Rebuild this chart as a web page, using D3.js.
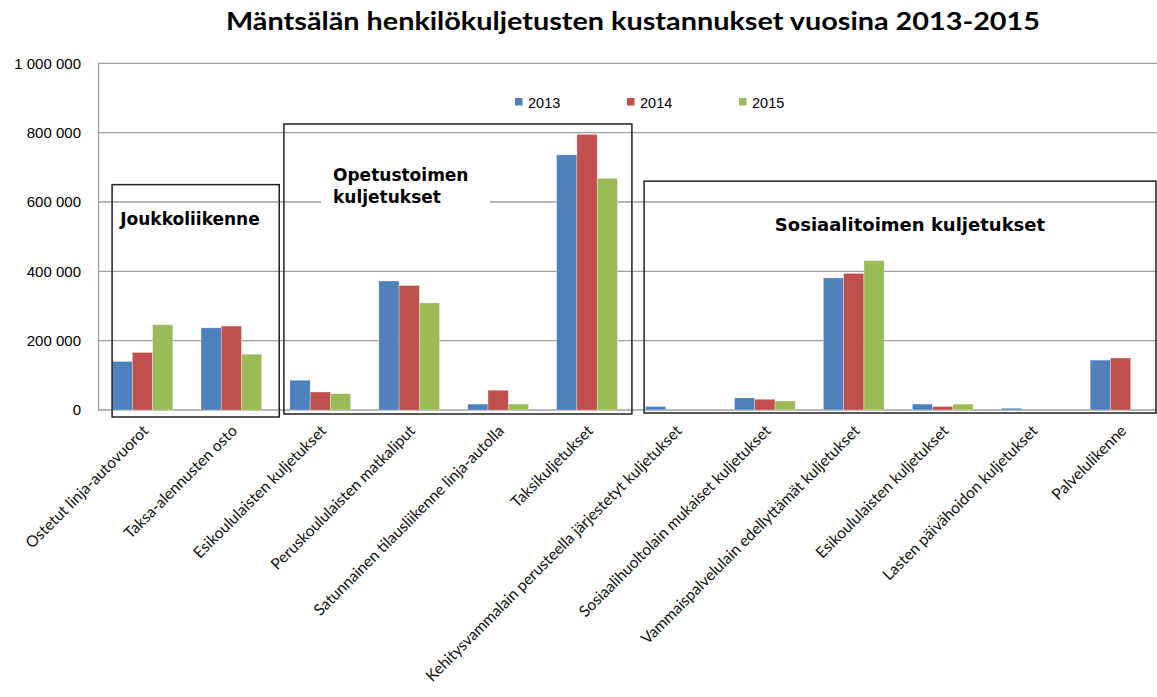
<!DOCTYPE html>
<html>
<head>
<meta charset="utf-8">
<script src="https://cdn.jsdelivr.net/npm/d3@7"></script>
<style>
  body { margin: 0; background: #fff; }
  svg { display: block; }
</style>
</head>
<body>
<svg id="chart" width="1157" height="697"></svg>
<script>
/*************************** Data ***************************/
var chartTitle = "Mäntsälän henkilökuljetusten kustannukset vuosina 2013-2015";

var categories = [
  "Ostetut linja-autovuorot",
  "Taksa-alennusten osto",
  "Esikoululaisten kuljetukset",
  "Peruskoululaisten matkaliput",
  "Satunnainen tilausliikenne linja-autolla",
  "Taksikuljetukset",
  "Kehitysvammalain perusteella järjestetyt kuljetukset",
  "Sosiaalihuoltolain mukaiset kuljetukset",
  "Vammaispalvelulain edellyttämät kuljetukset",
  "Esikoululaisten kuljetukset",
  "Lasten päivähoidon kuljetukset",
  "Palvelulikenne"
];

var years = ["2013", "2014", "2015"];
var values2013 = [140000, 237000, 86000, 372000, 17000, 736000, 10000, 35000, 381000, 17000, 5000, 144000];
var values2014 = [166000, 242000, 52000, 359000, 57000, 795000, 0, 31000, 394000, 10000, 0, 150000];
var values2015 = [246000, 161000, 47000, 309000, 17000, 668000, 0, 26000, 431000, 17000, 0, 0];

var yTicks = [0, 200000, 400000, 600000, 800000, 1000000];

// groups of categories framed with a box (first index, last index, top value, label lines)
var groupFirst = [0, 2, 6];
var groupLast  = [1, 5, 11];
var groupTop   = [650000, 825000, 660000];
var groupLabels = [["Joukkoliikenne"], ["Opetustoimen", "kuljetukset"], ["Sosiaalitoimen kuljetukset"]];

/*************************** Layout ***************************/
var colors = ["#4F81BD", "#C0504D", "#9BBB59"];
var svg = d3.select("#chart");
var plotLeft = 98, plotRight = 1165, plotTop = 63.3, plotBottom = 410;

var x0 = d3.scaleBand().domain(d3.range(categories.length)).range([plotLeft, plotRight])
            .paddingInner(0.317).paddingOuter(0.1585);
var x1 = d3.scaleBand().domain(years).range([0, x0.bandwidth()]);
var y = d3.scaleLinear().domain([0, 1000000]).range([plotBottom, plotTop]);

var series = [values2013, values2014, values2015];
var rows = categories.map(function(c, i){
    return years.map(function(yr, k){ return {cat: i, year: yr, k: k, v: series[k][i]}; });
});

// title
svg.append("text")
   .attr("x", 633).attr("y", 30)
   .attr("text-anchor", "middle")
   .attr("font-family", "Lato, 'Open Sans', sans-serif")
   .attr("font-weight", "bold")
   .attr("font-size", "25px")
   .attr("textLength", 814)
   .attr("lengthAdjust", "spacingAndGlyphs")
   .attr("fill", "#000")
   .text(chartTitle);

// gridlines
svg.append("g").selectAll("line")
   .data(yTicks.filter(function(t){ return t > 0; }))
   .enter().append("line")
   .attr("x1", plotLeft).attr("x2", plotRight)
   .attr("y1", function(d){ return y(d); }).attr("y2", function(d){ return y(d); })
   .attr("stroke", "#a0a0a0").attr("stroke-width", 1.3);

// y axis
var yAxis = d3.axisLeft(y).tickValues(yTicks).tickSize(0).tickPadding(17)
              .tickFormat(function(d){ return d3.format(",")(d).replace(/,/g, " "); });
var ya = svg.append("g").attr("transform", "translate(" + plotLeft + ",0)").call(yAxis);
ya.select(".domain").attr("stroke", "#a0a0a0").attr("stroke-width", 1.3);
ya.selectAll("text").attr("font-family", "'Liberation Sans', Arial, sans-serif")
  .attr("font-size", "15px").attr("fill", "#000");

// baseline
svg.append("line").attr("x1", plotLeft).attr("x2", plotRight)
   .attr("y1", y(0)).attr("y2", y(0))
   .attr("stroke", "#a0a0a0").attr("stroke-width", 1.5);

// bars
svg.append("g").selectAll("g")
   .data(rows).enter().append("g")
   .attr("transform", function(d, i){ return "translate(" + x0(i) + ",0)"; })
   .selectAll("rect")
   .data(function(d){ return d.filter(function(e){ return e.v > 0; }); })
   .enter().append("rect")
   .attr("x", function(d){ return x1(d.year); })
   .attr("width", x1.bandwidth())
   .attr("y", function(d){ return y(d.v); })
   .attr("height", function(d){ return y(0) - y(d.v); })
   .attr("fill", function(d){ return colors[d.k]; })
   .attr("stroke", "#ffffff").attr("stroke-opacity", 0.5).attr("stroke-width", 0.6);

// category labels
svg.append("g").selectAll("text")
   .data(categories).enter().append("text")
   .attr("transform", function(d, i){
       return "translate(" + (x0(i) + x0.bandwidth() / 2 + 3) + "," + 428 + ") rotate(-45)";
   })
   .attr("text-anchor", "end")
   .attr("dy", "0.35em")
   .attr("font-family", "Lato, 'Open Sans', sans-serif")
   .attr("font-size", "15.6px")
   .attr("fill", "#111")
   .text(function(d){ return d; });

// legend
var legend = svg.append("g").selectAll("g")
   .data(years).enter().append("g")
   .attr("transform", function(d, i){ return "translate(" + (515 + i * 112) + ",98)"; });
legend.append("rect").attr("width", 7.5).attr("height", 7.5)
      .attr("fill", function(d, i){ return colors[i]; });
legend.append("text").attr("x", 13).attr("y", 10)
      .attr("font-family", "'Liberation Sans', Arial, sans-serif")
      .attr("font-size", "14.5px").attr("fill", "#000")
      .text(function(d){ return d; });

// group boxes
var padL = [0, 6, 1.5], padR = [17.5, 14.5, 0], bottomOff = [7, 4, 3];
groupFirst.forEach(function(f, g){
    var bx0 = x0(f) - padL[g];
    var bx1 = x0(groupLast[g]) + x0.bandwidth() + padR[g];
    if (groupLast[g] === categories.length - 1) bx1 = 1156;
    var by0 = y(groupTop[g]);
    var by1 = y(0) + bottomOff[g];
    svg.append("rect")
       .attr("x", bx0).attr("y", by0)
       .attr("width", bx1 - bx0).attr("height", by1 - by0)
       .attr("fill", "none").attr("stroke", "#222").attr("stroke-width", 1.5);
});

// white background over gridline behind "Opetustoimen kuljetukset"
svg.append("rect").attr("x", 321).attr("y", 160).attr("width", 169).attr("height", 50).attr("fill", "#fff");

// group labels
var lbl = svg.append("g").attr("font-family", "'DejaVu Sans', Verdana, sans-serif")
             .attr("font-weight", "bold").attr("font-size", "17px").attr("fill", "#000");
lbl.append("text").attr("x", 190).attr("y", 225).attr("text-anchor", "middle")
   .text(groupLabels[0][0]);
lbl.append("text").attr("x", 333).attr("y", 181).text(groupLabels[1][0]);
lbl.append("text").attr("x", 333).attr("y", 203).text(groupLabels[1][1]);
lbl.append("text").attr("x", 910).attr("y", 231).attr("text-anchor", "middle")
   .attr("font-size", "18px")
   .text(groupLabels[2][0]);
</script>
</body>
</html>
